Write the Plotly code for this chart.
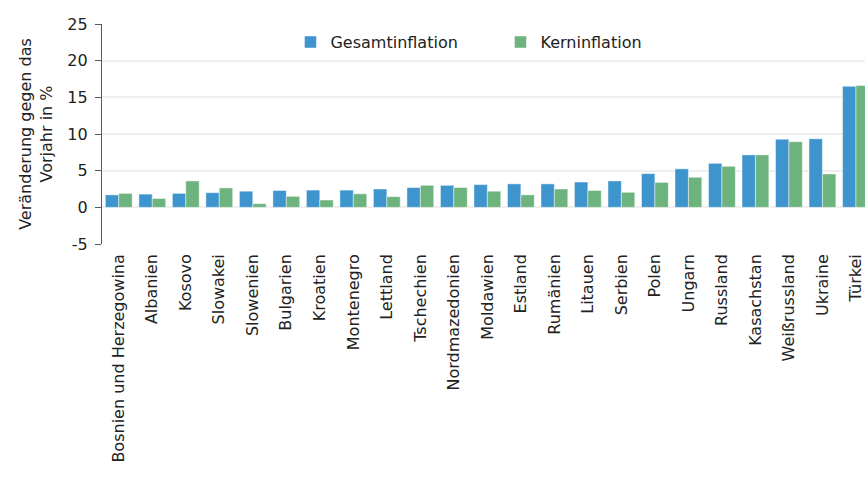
import plotly.graph_objects as go

countries = [
    "Bosnien und Herzegowina", "Albanien", "Kosovo", "Slowakei", "Slowenien",
    "Bulgarien", "Kroatien", "Montenegro", "Lettland", "Tschechien",
    "Nordmazedonien", "Moldawien", "Estland", "Rumänien", "Litauen",
    "Serbien", "Polen", "Ungarn", "Russland", "Kasachstan",
    "Weißrussland", "Ukraine", "Türkei",
]
gesamtinflation = [1.7, 1.8, 1.9, 2.0, 2.2, 2.3, 2.35, 2.35, 2.5, 2.7,
                   3.0, 3.1, 3.2, 3.2, 3.45, 3.6, 4.6, 5.25, 6.0, 7.15,
                   9.3, 9.35, 16.5]
kerninflation = [1.9, 1.2, 3.6, 2.65, 0.5, 1.5, 1.0, 1.85, 1.45, 3.0,
                 2.7, 2.2, 1.7, 2.5, 2.3, 2.05, 3.4, 4.1, 5.6, 7.15,
                 8.95, 4.55, 16.6]
y_ticks = [-5, 0, 5, 10, 15, 20, 25]
y_tick_labels = ["-5", "0", "5", "10", "15", "20", "25"]

FONT = "DejaVu Sans"
TXT = "#222222"
AXIS = "#595959"
x_range = [-0.5, 22.27]

fig = go.Figure()
fig.add_trace(go.Bar(
    x=countries, y=gesamtinflation, name="Gesamtinflation",
    marker=dict(color="#3E95CD", line=dict(color="rgba(255,255,255,0.45)", width=1)),
))
fig.add_trace(go.Bar(
    x=countries, y=kerninflation, name="Kerninflation",
    marker=dict(color="#6DB37E", line=dict(color="rgba(255,255,255,0.45)", width=1)),
))

fig.update_layout(
    width=865, height=485, autosize=False,
    margin=dict(l=102, r=0, t=24, b=241, pad=0),
    paper_bgcolor="white", plot_bgcolor="white",
    font=dict(family=FONT, size=15, color=TXT),
    barmode="group", bargap=0.2, bargroupgap=0,
    legend=dict(
        orientation="h", x=0.247, y=0.995, xanchor="left", yanchor="top",
        font=dict(size=16, color=TXT), entrywidth=165, entrywidthmode="pixels",
        bgcolor="rgba(0,0,0,0)", itemwidth=30,
    ),
    xaxis=dict(
        type="category", range=x_range, tickangle=-90,
        showline=False, ticks="", showgrid=False, zeroline=False,
        tickfont=dict(size=16, color=TXT), ticklabelstandoff=6,
    ),
    # zero line with ticks between the categories
    xaxis2=dict(
        overlaying="x", anchor="free", position=5 / 30, range=x_range,
        tickmode="array", tickvals=[i + 0.5 for i in range(len(countries) - 1)],
        ticks="outside", ticklen=6, tickcolor=AXIS, tickwidth=1.3,
        showline=True, linecolor=AXIS, linewidth=1.3,
        showticklabels=False, showgrid=False, zeroline=False,
    ),
    yaxis=dict(
        range=[-5, 25], tickmode="array", tickvals=y_ticks, ticktext=y_tick_labels,
        ticks="outside", ticklen=6, tickcolor=AXIS,
        showline=True, linecolor=AXIS, linewidth=1.3,
        gridcolor="#EFEFEF", gridwidth=1.5, zeroline=False,
        tickfont=dict(size=16, color=TXT), ticklabelstandoff=4,
        title=dict(text="Veränderung gegen das<br>Vorjahr in %",
                   font=dict(size=16, color=TXT), standoff=10),
    ),
)

fig.write_html("out.html")
